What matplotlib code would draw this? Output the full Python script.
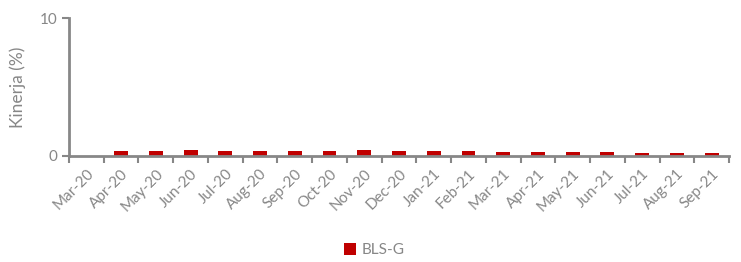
import numpy as np
import matplotlib.pyplot as plt

plt.rcParams['font.family'] = ['Lato', 'DejaVu Sans']

# data
months = ['Mar-20', 'Apr-20', 'May-20', 'Jun-20', 'Jul-20', 'Aug-20', 'Sep-20',
          'Oct-20', 'Nov-20', 'Dec-20', 'Jan-21', 'Feb-21', 'Mar-21', 'Apr-21',
          'May-21', 'Jun-21', 'Jul-21', 'Aug-21', 'Sep-21']
bls_g = [0.0, 0.33, 0.33, 0.38, 0.33, 0.37, 0.33, 0.37, 0.40, 0.33, 0.32,
         0.32, 0.27, 0.23, 0.23, 0.23, 0.18, 0.18, 0.17]

grey = '#878787'
fig = plt.figure(figsize=(7.41, 2.62), dpi=100)
ax = fig.add_axes([0.0931, 0.406, 0.8907, 0.525])

x = np.arange(len(months))
ax.bar(x, bls_g, width=0.4, color='#C00000', label='BLS-G')

ax.set_xlim(-0.5, len(months) - 0.5)
ax.set_ylim(0, 10)
ax.set_yticks([0, 10])
ax.set_xticks(x)
ax.set_xticklabels(months, rotation=45, ha='right', rotation_mode='anchor')
ax.set_xticks(np.arange(len(months) + 1) - 0.5, minor=True)
ax.tick_params(axis='x', which='major', length=0, pad=8, labelsize=11, labelcolor=grey)
ax.tick_params(axis='x', which='minor', length=5, width=1.5, color=grey)
ax.tick_params(axis='y', length=5, width=1.5, color=grey, labelsize=11, labelcolor=grey)

for s in ['top', 'right']:
    ax.spines[s].set_visible(False)
for s in ['left', 'bottom']:
    ax.spines[s].set_color(grey)
    ax.spines[s].set_linewidth(2)

ax.set_ylabel('Kinerja (%)', color=grey, fontsize=12.5, labelpad=10)

fig.legend(loc='center', bbox_to_anchor=(0.505, 0.045), frameon=False,
           fontsize=11, labelcolor=grey, handlelength=0.8, handleheight=0.8,
           handletextpad=0.4)

fig.savefig('out.png', dpi=100)
